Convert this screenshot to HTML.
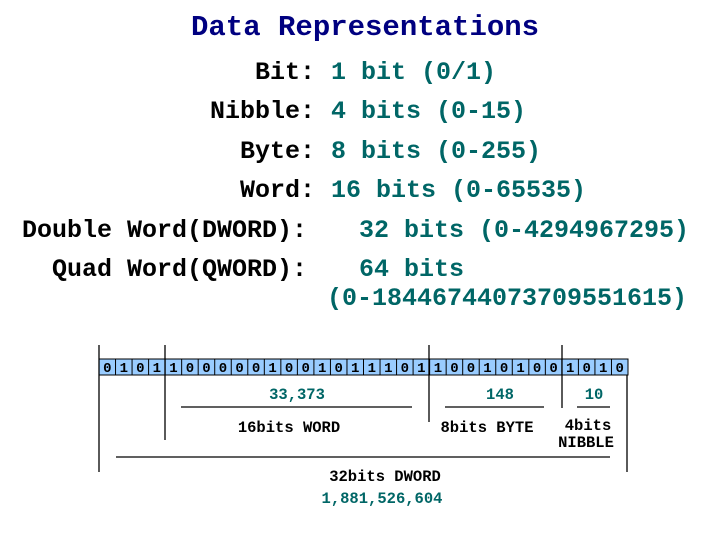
<!DOCTYPE html>
<html><head><style>
body{margin:0;width:728px;height:546px;background:#fff;position:relative;overflow:hidden;font-family:"Liberation Mono",monospace;font-weight:bold}
.t{position:absolute;white-space:pre;line-height:1}
.k{color:#000}.v{color:#006666}
</style></head><body>
<div class="t" style="left:191px;top:13px;font-size:29px;color:#000080">Data Representations</div>
<div class="t k" style="right:413px;top:60px;font-size:25px">Bit:</div>
<div class="t v" style="left:331px;top:60px;font-size:25px">1 bit (0/1)</div>
<div class="t k" style="right:413px;top:99px;font-size:25px">Nibble:</div>
<div class="t v" style="left:331px;top:99px;font-size:25px">4 bits (0-15)</div>
<div class="t k" style="right:413px;top:139px;font-size:25px">Byte:</div>
<div class="t v" style="left:331px;top:139px;font-size:25px">8 bits (0-255)</div>
<div class="t k" style="right:413px;top:178px;font-size:25px">Word:</div>
<div class="t v" style="left:331px;top:178px;font-size:25px">16 bits (0-65535)</div>
<div class="t k" style="left:22px;top:218px;font-size:25px">Double Word(DWORD):</div>
<div class="t v" style="left:359px;top:218px;font-size:25px">32 bits (0-4294967295)</div>
<div class="t k" style="left:52px;top:257px;font-size:25px">Quad Word(QWORD):</div>
<div class="t v" style="left:359px;top:257px;font-size:25px">64 bits</div>
<div class="t v" style="left:327px;top:286px;font-size:25px">(0-18446744073709551615)</div>

<svg width="728" height="546" style="position:absolute;left:0;top:0">
<rect x="99" y="359" width="529" height="16" fill="#99ccff" stroke="#000" stroke-width="1"/>
<g stroke="#000" stroke-width="1" id="cells"></g>
<g font-family="Liberation Mono,monospace" font-weight="bold" font-size="14" text-anchor="middle" id="bits"></g>
<g stroke="#000" stroke-width="1.3">
<line x1="99" y1="345" x2="99" y2="472"/>
<line x1="165" y1="345" x2="165" y2="440"/>
<line x1="429" y1="345" x2="429" y2="422"/>
<line x1="562" y1="345" x2="562" y2="408"/>
<line x1="627" y1="375" x2="627" y2="472"/>
<line x1="181" y1="407" x2="412" y2="407"/>
<line x1="445" y1="407" x2="544" y2="407"/>
<line x1="577" y1="407" x2="610" y2="407"/>
<line x1="116" y1="457" x2="610" y2="457"/>
</g>
<g font-family="Liberation Mono,monospace" font-weight="bold" font-size="15.5" text-anchor="middle">
<text x="297" y="399" fill="#006666">33,373</text>
<text x="289" y="432">16bits WORD</text>
<text x="500" y="399" fill="#006666">148</text>
<text x="594" y="399" fill="#006666">10</text>
<text x="487" y="432">8bits BYTE</text>
<text x="588" y="430">4bits</text>
<text x="586" y="447">NIBBLE</text>
<text x="385" y="481">32bits DWORD</text>
<text x="382" y="503" fill="#006666">1,881,526,604</text>
</g>
</svg>
<script>
var b="01011000001001011101100101001010",c="",t="",w=529/32;
for(var i=0;i<32;i++){var x=99+i*w;if(i)c+='<line x1="'+x+'" y1="359" x2="'+x+'" y2="375"/>';t+='<text x="'+(x+w/2)+'" y="372">'+b[i]+'</text>';}
document.getElementById("cells").innerHTML=c;document.getElementById("bits").innerHTML=t;
</script>
</body></html>
